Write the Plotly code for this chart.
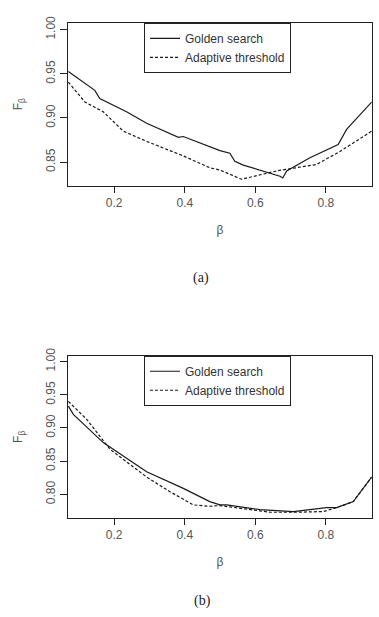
import plotly.graph_objects as go

# ---- data: panel (a) ----
a_gold_x = [0.070, 0.145, 0.159, 0.235, 0.292, 0.382, 0.396, 0.471, 0.500, 0.528, 0.542, 0.566,
            0.642, 0.670, 0.678, 0.689, 0.755, 0.835, 0.859, 0.930]
a_gold_y = [0.9526, 0.9313, 0.922, 0.907, 0.894, 0.878, 0.879, 0.868, 0.863, 0.860, 0.851, 0.8466,
            0.838, 0.834, 0.832, 0.840, 0.855, 0.870, 0.887, 0.918]
a_adap_x = [0.070, 0.117, 0.169, 0.226, 0.292, 0.396, 0.471, 0.500, 0.561, 0.661, 0.774, 0.840, 0.930]
a_adap_y = [0.9406, 0.918, 0.907, 0.885, 0.8735, 0.857, 0.8436, 0.841, 0.8306, 0.840, 0.8474, 0.862, 0.885]

# ---- data: panel (b) ----
b_gold_x = [0.070, 0.084, 0.169, 0.292, 0.396, 0.471, 0.500, 0.519, 0.613, 0.708, 0.802, 0.831, 0.878, 0.930]
b_gold_y = [0.933, 0.9205, 0.878, 0.834, 0.809, 0.789, 0.784, 0.784, 0.777, 0.774, 0.780, 0.780, 0.789, 0.826]
b_adap_x = [0.070, 0.122, 0.188, 0.292, 0.358, 0.424, 0.471, 0.500, 0.613, 0.642, 0.717, 0.793, 0.831, 0.878, 0.930]
b_adap_y = [0.940, 0.913, 0.868, 0.826, 0.804, 0.784, 0.782, 0.783, 0.775, 0.773, 0.773, 0.774, 0.780, 0.789, 0.826]

series_names = ["Golden search", "Adaptive threshold"]
x_ticks = [0.2, 0.4, 0.6, 0.8]
a_y_ticks = [0.85, 0.90, 0.95, 1.00]
b_y_ticks = [0.80, 0.85, 0.90, 0.95, 1.00]

W, H = 379, 617
LINE = "#1a1a1a"
TICKC = "#555555"
FONT = "Liberation Sans"

fig = go.Figure()

def add(x, y, name, dash, xa, ya, legend):
    fig.add_trace(go.Scatter(x=x, y=y, mode="lines", name=name,
                             line=dict(color=LINE, width=1.2, dash=dash),
                             xaxis=xa, yaxis=ya, legend=legend, showlegend=True))

add(a_gold_x, a_gold_y, series_names[0], "solid", "x", "y", "legend")
add(a_adap_x, a_adap_y, series_names[1], "3px,2px", "x", "y", "legend")
add(b_gold_x, b_gold_y, series_names[0], "solid", "x2", "y2", "legend2")
add(b_adap_x, b_adap_y, series_names[1], "3px,2px", "x2", "y2", "legend2")

xdom = [68 / W, 372 / W]
top_dom = [1 - 180 / H, 1 - 15 / H]
bot_dom = [1 - 516.7 / H, 1 - 352.3 / H]

xcommon = dict(range=[0.069, 0.931], tickvals=x_ticks, ticktext=[f"{v:.1f}" for v in x_ticks],
               showline=True, mirror=True, linecolor="#222", linewidth=1,
               ticks="outside", ticklen=6, tickcolor="#222", showgrid=False, zeroline=False,
               tickfont=dict(family=FONT, size=12, color=TICKC),
               title=dict(text="β", font=dict(family=FONT, size=12, color=TICKC), standoff=16))
ycommon = dict(showline=True, mirror=True, linecolor="#222", linewidth=1,
               ticks="outside", ticklen=7, tickcolor="#222", showgrid=False, zeroline=False,
               tickangle=-90, tickformat=".2f",
               tickfont=dict(family=FONT, size=12, color=TICKC),
               title=dict(text="F<sub>β</sub>", font=dict(family=FONT, size=12, color=TICKC), standoff=18))

legend_common = dict(xanchor="left", yanchor="top", bordercolor="#222", borderwidth=1,
                     bgcolor="white", font=dict(family=FONT, size=12, color="#333"))

fig.update_layout(
    width=W, height=H, margin=dict(l=0, r=0, t=0, b=0),
    paper_bgcolor="white", plot_bgcolor="white",
    xaxis=dict(domain=xdom, anchor="y", **xcommon),
    yaxis=dict(domain=top_dom, anchor="x", range=[0.8233, 1.0078], tickvals=a_y_ticks, **ycommon),
    xaxis2=dict(domain=xdom, anchor="y2", **xcommon),
    yaxis2=dict(domain=bot_dom, anchor="x2", range=[0.7643, 1.0089], tickvals=b_y_ticks, **ycommon),
    legend=dict(x=144 / W, y=1 - 15 / H, **legend_common),
    legend2=dict(x=144 / W, y=1 - 352.3 / H, **legend_common),
    annotations=[
        dict(text="(a)", x=201 / W, y=1 - 274 / H, xref="paper", yref="paper", showarrow=False,
             font=dict(family="Liberation Serif", size=14, color="#222")),
        dict(text="(b)", x=202 / W, y=1 - 611 / H, xref="paper", yref="paper", showarrow=False,
             font=dict(family="Liberation Serif", size=14, color="#222")),
    ],
)

fig.write_html("out.html")
